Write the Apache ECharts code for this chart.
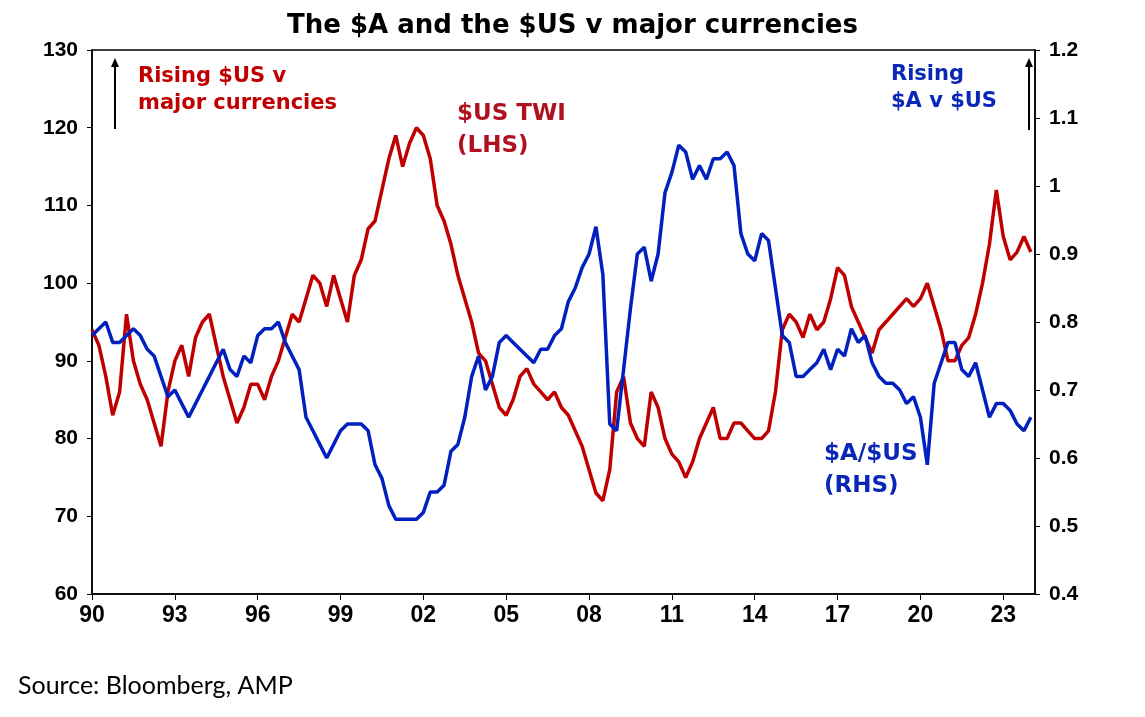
<!DOCTYPE html>
<html>
<head>
<meta charset="utf-8">
<script src="https://cdn.jsdelivr.net/npm/echarts@6/dist/echarts.min.js"></script>
</head>
<body style="margin:0;background:#fff">
<div id="chart" style="width:1145px;height:717px"></div>
<script>
// quarterly readings, starting 1990 Q1
var startYear = 1990;
var twi = [
  94, 92, 88, 83,  86, 96, 90, 87,  85, 82, 79, 86,  90, 92, 88, 93,
  95, 96, 92, 88,  85, 82, 84, 87,  87, 85, 88, 90,  93, 96, 95, 98,
  101, 100, 97, 101,  98, 95, 101, 103,  107, 108, 112, 116,  119, 115, 118, 120,
  119, 116, 110, 108,  105, 101, 98, 95,  91, 90, 87, 84,  83, 85, 88, 89,
  87, 86, 85, 86,  84, 83, 81, 79,  76, 73, 72, 76,  86, 88, 82, 80,
  79, 86, 84, 80,  78, 77, 75, 77,  80, 82, 84, 80,  80, 82, 82, 81,
  80, 80, 81, 86,  94, 96, 95, 93,  96, 94, 95, 98,  102, 101, 97, 95,
  93, 91, 94, 95,  96, 97, 98, 97,  98, 100, 97, 94,  90, 90, 92, 93,
  96, 100, 105, 112,  106, 103, 104, 106,  104
];
var audusd = [
  0.78, 0.79, 0.80, 0.77,  0.77, 0.78, 0.79, 0.78,  0.76, 0.75, 0.72, 0.69,  0.70, 0.68, 0.66, 0.68,
  0.70, 0.72, 0.74, 0.76,  0.73, 0.72, 0.75, 0.74,  0.78, 0.79, 0.79, 0.80,  0.77, 0.75, 0.73, 0.66,
  0.64, 0.62, 0.60, 0.62,  0.64, 0.65, 0.65, 0.65,  0.64, 0.59, 0.57, 0.53,  0.51, 0.51, 0.51, 0.51,
  0.52, 0.55, 0.55, 0.56,  0.61, 0.62, 0.66, 0.72,  0.75, 0.70, 0.72, 0.77,  0.78, 0.77, 0.76, 0.75,
  0.74, 0.76, 0.76, 0.78,  0.79, 0.83, 0.85, 0.88,  0.90, 0.94, 0.87, 0.65,  0.64, 0.73, 0.82, 0.90,
  0.91, 0.86, 0.90, 0.99,  1.02, 1.06, 1.05, 1.01,  1.03, 1.01, 1.04, 1.04,  1.05, 1.03, 0.93, 0.90,
  0.89, 0.93, 0.92, 0.85,  0.78, 0.77, 0.72, 0.72,  0.73, 0.74, 0.76, 0.73,  0.76, 0.75, 0.79, 0.77,
  0.78, 0.74, 0.72, 0.71,  0.71, 0.70, 0.68, 0.69,  0.66, 0.59, 0.71, 0.74,  0.77, 0.77, 0.73, 0.72,
  0.74, 0.70, 0.66, 0.68,  0.68, 0.67, 0.65, 0.64,  0.66
];
var xTicks = [1990, 1993, 1996, 1999, 2002, 2005, 2008, 2011, 2014, 2017, 2020, 2023];

function pairs(arr) {
  return arr.map(function (v, i) { return [startYear + i * 0.25, v]; });
}

var chart = echarts.init(document.getElementById('chart'));
var lbl = { color: '#000', fontFamily: 'Arial', fontWeight: 'bold', fontSize: 21 };
chart.setOption({
  animation: false,
  title: {
    text: 'The $A and the $US v major currencies',
    left: 'center', top: 8,
    textStyle: { fontFamily: 'DejaVu Sans', fontWeight: 'bold', fontSize: 26, color: '#000' }
  },
  grid: { left: 92, right: 110, top: 50, bottom: 123, show: true, borderColor: '#000', borderWidth: 1.5 },
  xAxis: {
    type: 'value', min: 1990, max: 2024.15, interval: 3,
    axisLine: { lineStyle: { color: '#000', width: 1.5 } },
    axisTick: { show: true, length: 6, lineStyle: { color: '#000' } },
    splitLine: { show: false },
    axisLabel: {
      color: '#000', fontFamily: 'Arial', fontWeight: 'bold', fontSize: 23, margin: 10,
      showMaxLabel: false,
      formatter: function (v) { return xTicks.indexOf(v) >= 0 ? String(v).slice(2) : ''; }
    }
  },
  yAxis: [
    {
      type: 'value', min: 60, max: 130, interval: 10, position: 'left',
      axisLine: { show: true, lineStyle: { color: '#000', width: 1.5 } },
      axisTick: { show: true, lineStyle: { color: '#000' } },
      splitLine: { show: false },
      axisLabel: Object.assign({ margin: 14 }, lbl)
    },
    {
      type: 'value', min: 0.4, max: 1.2, interval: 0.1, position: 'right',
      axisLine: { show: true, lineStyle: { color: '#000', width: 1.5 } },
      axisTick: { show: true, lineStyle: { color: '#000' } },
      splitLine: { show: false },
      axisLabel: Object.assign({ margin: 14, formatter: function (v) {
        return (Math.round(v * 10) / 10).toString();
      } }, lbl)
    }
  ],
  series: [
    { name: '$US TWI', type: 'line', yAxisIndex: 0, data: pairs(twi), showSymbol: false,
      lineStyle: { color: '#c00000', width: 3.5 } },
    { name: '$A/$US', type: 'line', yAxisIndex: 1, data: pairs(audusd), showSymbol: false,
      lineStyle: { color: '#0020c0', width: 3.5 } }
  ],
  graphic: [
    { type: 'text', left: 138, top: 63, style: { text: 'Rising $US v\nmajor currencies', fill: '#c00000',
      font: 'bold 21px "DejaVu Sans"', lineHeight: 27 } },
    { type: 'text', left: 457, top: 98, style: { text: '$US TWI\n(LHS)', fill: '#b01020',
      font: 'bold 23px "DejaVu Sans"', lineHeight: 32 } },
    { type: 'text', left: 891, top: 61, style: { text: 'Rising\n$A v $US', fill: '#0a28b8',
      font: 'bold 21px "DejaVu Sans"', lineHeight: 27 } },
    { type: 'text', left: 824, top: 438, style: { text: '$A/$US\n(RHS)', fill: '#0a28b8',
      font: 'bold 23px "DejaVu Sans"', lineHeight: 32 } },
    { type: 'line', shape: { x1: 115, y1: 66, x2: 115, y2: 129 }, style: { stroke: '#000', lineWidth: 2 } },
    { type: 'polygon', shape: { points: [[111, 67], [119, 67], [115, 58]] }, style: { fill: '#000' } },
    { type: 'line', shape: { x1: 1029, y1: 66, x2: 1029, y2: 130 }, style: { stroke: '#000', lineWidth: 2 } },
    { type: 'polygon', shape: { points: [[1025, 67], [1033, 67], [1029, 58]] }, style: { fill: '#000' } },
    { type: 'text', left: 18, top: 673, style: { text: 'Source: Bloomberg, AMP', fill: '#000',
      font: '25px Lato' } }
  ]
});
</script>
</body>
</html>
